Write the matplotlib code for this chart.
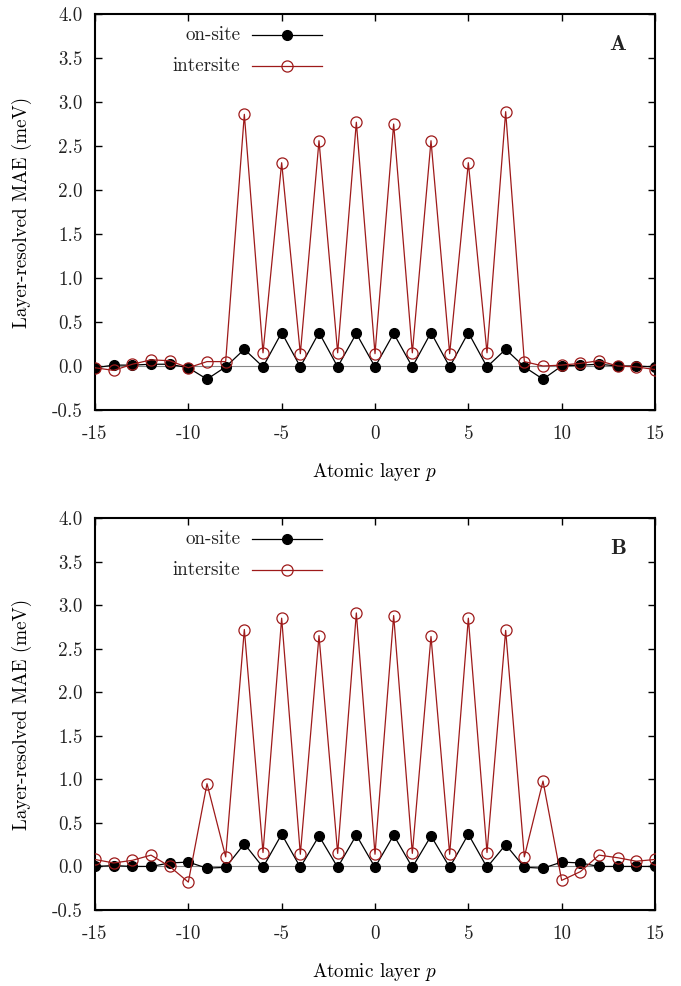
import numpy as np
import matplotlib
matplotlib.use("Agg")
import matplotlib.pyplot as plt

plt.rcParams['font.family'] = ['cmr10', 'DejaVu Serif']
plt.rcParams['mathtext.fontset'] = 'cm'
plt.rcParams['axes.unicode_minus'] = False
plt.rcParams['text.color'] = '#222222'
plt.rcParams['xtick.labelcolor'] = '#222222'
plt.rcParams['ytick.labelcolor'] = '#222222'

# couches atomiques
layers = np.arange(-15, 16)

# panneau A
onsite_A = [-0.02, 0.01, 0.01, 0.02, 0.02, -0.02, -0.15, -0.01, 0.19, -0.01, 0.38,
            -0.01, 0.38, -0.01, 0.37, -0.01, 0.37, -0.01, 0.38, -0.01, 0.38, -0.01,
            0.19, -0.01, -0.15, 0.0, 0.01, 0.02, 0.0, 0.0, -0.01]
inter_A = [-0.02, -0.05, 0.02, 0.07, 0.06, -0.02, 0.05, 0.05, 2.86, 0.15, 2.31,
           0.14, 2.56, 0.15, 2.77, 0.14, 2.75, 0.15, 2.56, 0.14, 2.31, 0.15,
           2.89, 0.05, 0.0, 0.01, 0.03, 0.06, 0.0, -0.01, -0.04]

# panneau B
onsite_B = [0.0, 0.01, 0.0, 0.0, 0.04, 0.05, -0.02, -0.01, 0.26, -0.01, 0.37,
            -0.01, 0.35, -0.01, 0.36, -0.01, 0.36, -0.01, 0.35, -0.01, 0.37, -0.01,
            0.25, -0.01, -0.02, 0.05, 0.04, 0.0, 0.0, 0.0, 0.0]
inter_B = [0.08, 0.04, 0.07, 0.13, 0.0, -0.18, 0.95, 0.11, 2.72, 0.16, 2.85,
           0.14, 2.65, 0.15, 2.91, 0.14, 2.88, 0.15, 2.64, 0.14, 2.85, 0.16,
           2.71, 0.11, 0.98, -0.16, -0.06, 0.13, 0.10, 0.06, 0.08]

panels = [("A", onsite_A, inter_A), ("B", onsite_B, inter_B)]

rouge = '#9e1a1a'
fs = 13.7
W, H = 681, 986
fig = plt.figure(figsize=(W / 100, H / 100), dpi=100)

boxes = [(95, 14, 655, 410), (95, 518, 655, 910)]

for (lab, ons, inte), (x0, y0, x1, y1) in zip(panels, boxes):
    ax = fig.add_axes([x0 / W, 1 - y1 / H, (x1 - x0) / W, (y1 - y0) / H])
    ax.axhline(0, color='#888888', lw=0.8, zorder=1)
    ax.plot(layers, ons, '-o', color='black', lw=0.9, ms=7, zorder=3)
    ax.plot(layers, inte, '-o', color=rouge, lw=0.9, ms=8, mfc='none', mec=rouge,
            mew=0.9, zorder=4)
    ax.set_xlim(-15, 15)
    ax.set_ylim(-0.5, 4.0)
    ax.set_xticks(np.arange(-15, 16, 5))
    ax.set_yticks(np.arange(-0.5, 4.01, 0.5))
    ax.set_yticklabels([f"{v:.1f}" for v in np.arange(-0.5, 4.01, 0.5)])
    ax.tick_params(direction='in', top=True, right=True, length=5, width=1,
                   labelsize=fs)
    ax.tick_params(axis='x', pad=11)
    ax.tick_params(axis='y', pad=9)
    for s in ax.spines.values():
        s.set_linewidth(1.5)
    ax.set_xlabel("Atomic layer $p$", fontsize=fs)
    ax.xaxis.set_label_coords(0.5, -62 / (y1 - y0))
    ax.xaxis.label.set_va('center')
    ax.set_ylabel("Layer-resolved MAE (meV)", fontsize=fs)
    ax.yaxis.set_label_coords(-(x0 - 22) / (x1 - x0), 0.5)
    ax.yaxis.label.set_va('center')

    # légende façon gnuplot
    yl1 = 1 - 21 / (y1 - y0)
    yl2 = 1 - 52 / (y1 - y0)
    xt = (240 - x0) / (x1 - x0)
    xa, xb = (252 - x0) / (x1 - x0), (322 - x0) / (x1 - x0)
    xm = (xa + xb) / 2
    ax.text(xt, yl1, "on-site", transform=ax.transAxes, ha='right', va='center', fontsize=fs)
    ax.text(xt, yl2, "intersite", transform=ax.transAxes, ha='right', va='center', fontsize=fs)
    ax.plot([xa, xb], [yl1, yl1], color='black', lw=0.9, transform=ax.transAxes)
    ax.plot([xm], [yl1], 'o', color='black', ms=7, transform=ax.transAxes)
    ax.plot([xa, xb], [yl2, yl2], color=rouge, lw=0.9, transform=ax.transAxes)
    ax.plot([xm], [yl2], 'o', mfc='none', mec=rouge, mew=0.9, ms=8, transform=ax.transAxes)

    ax.text((618 - x0) / (x1 - x0), 1 - 31 / (y1 - y0), lab, transform=ax.transAxes,
            ha='center', va='center', fontsize=16,
            family=['cmb10', 'DejaVu Serif'])

fig.savefig("out.png", dpi=100)
